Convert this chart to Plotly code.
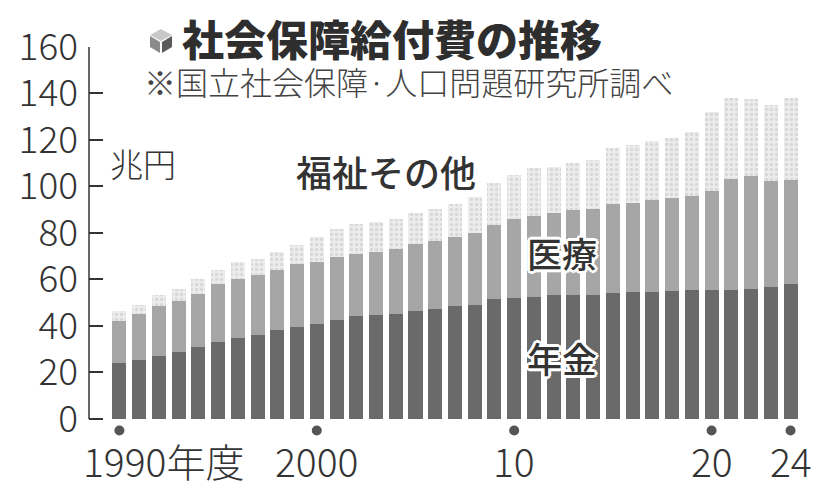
import plotly.graph_objects as go

# 社会保障給付費 (兆円), 1990-2024年度
years = list(range(1990, 2025))
pension = [23.9, 25.5, 27.2, 28.6, 30.8, 33.3, 34.7, 36.2, 38.3, 39.7,
           40.9, 42.6, 44.1, 44.8, 45.2, 46.4, 47.4, 48.4, 49.2, 51.4,
           52.1, 52.4, 53.4, 53.4, 53.4, 54.1, 54.4, 54.6, 55.0, 55.3,
           55.3, 55.6, 55.9, 56.7, 57.9]
medical = [18.4, 19.7, 21.2, 22.1, 23.1, 24.6, 25.6, 25.9, 25.9, 27.1,
           26.6, 27.1, 26.7, 27.0, 28.1, 28.8, 29.2, 29.9, 30.8, 32.0,
           33.7, 35.0, 35.3, 36.4, 36.7, 38.3, 38.6, 39.6, 39.9, 40.6,
           42.9, 47.7, 48.8, 45.6, 44.7]
welfare = [4.1, 3.8, 4.7, 5.3, 6.1, 6.3, 7.2, 6.9, 7.6, 8.2,
           10.8, 11.8, 13.0, 13.0, 12.5, 13.5, 13.5, 14.1, 15.3, 18.0,
           19.2, 20.5, 19.6, 20.2, 21.3, 24.1, 24.9, 25.3, 26.0, 27.4,
           33.7, 34.8, 32.9, 32.9, 35.4]

tick_vals = [0, 20, 40, 60, 80, 100, 120, 140, 160]
mark_years = [1990, 2000, 2010, 2020, 2024]
mark_labels = ["1990年度", "2000", "10", "20", "24"]

FONT = "Noto Sans CJK JP, sans-serif"
INK = "#333333"

fig = go.Figure()
fig.add_trace(go.Bar(x=years, y=pension, name="年金", marker=dict(color="#6a6a6a", line=dict(width=0))))
fig.add_trace(go.Bar(x=years, y=medical, name="医療", marker=dict(color="#a6a6a6", line=dict(width=0))))
fig.add_trace(go.Bar(x=years, y=welfare, name="福祉その他",
                     marker=dict(color="#e6e6e6", line=dict(width=0),
                                 pattern=dict(shape=".", fgcolor="#c4c4c4", bgcolor="#ececec", size=5, solidity=0.35))))
fig.add_trace(go.Scatter(x=mark_years, y=[-5] * len(mark_years), mode="markers",
                         marker=dict(color="#555555", size=10), hoverinfo="skip"))

# y axis line only from 0 to 160
fig.add_shape(type="line", xref="paper", yref="y", x0=0, x1=0, y0=0, y1=160,
              line=dict(color=INK, width=1.5))

# plot area in screen pixels: x 89..801, y 47..484 (data -28..160)
def px(x, y):
    return (x - 89) / 712, (484 - y) / 437

def poly(pts, color):
    p = [px(a, b) for a, b in pts]
    path = "M " + " L ".join(f"{a:.4f},{b:.4f}" for a, b in p) + " Z"
    fig.add_shape(type="path", path=path, xref="paper", yref="paper",
                  fillcolor=color, line=dict(width=0), layer="above")

# cube icon before the title
poly([(161, 29), (172, 35), (161, 41), (150, 35)], "#c8c8c8")
poly([(150, 36), (160, 42), (160, 53), (150, 47)], "#8a8a8a")
poly([(162, 42), (172, 36), (172, 47), (162, 53)], "#5a5a5a")

tx, ty = px(180, 38)
fig.add_annotation(text="社会保障給付費の推移", xref="paper", yref="paper", x=tx, y=ty,
                   xanchor="left", yanchor="middle", showarrow=False,
                   font=dict(family=FONT, size=42, color="#2e2e2e", weight=900))
sx, sy = px(142, 81)
fig.add_annotation(text="※国立社会保障·人口問題研究所調べ", xref="paper", yref="paper", x=sx, y=sy,
                   xanchor="left", yanchor="middle", showarrow=False,
                   font=dict(family=FONT, size=32, color="#444444", weight=300))

halo = ("white 2px 0px 0px, white -2px 0px 0px, white 0px 2px 0px, white 0px -2px 0px, "
        "white 2px 2px 0px, white -2px -2px 0px, white 2px -2px 0px, white -2px 2px 0px, "
        "white 3px 0px 0px, white -3px 0px 0px, white 0px 3px 0px, white 0px -3px 0px")

fig.add_annotation(text="兆円", x=1991.2, y=110, showarrow=False,
                   font=dict(family=FONT, size=33, color=INK, weight=300))
fig.add_annotation(text="福祉その他", x=2003.5, y=106.5, showarrow=False,
                   font=dict(family=FONT, size=36, color=INK, weight=500))
fig.add_annotation(text="医療", x=2012.4, y=71.5, showarrow=False,
                   font=dict(family=FONT, size=35, color=INK, weight=500, shadow=halo))
fig.add_annotation(text="年金", x=2012.4, y=26.5, showarrow=False,
                   font=dict(family=FONT, size=35, color=INK, weight=500, shadow=halo))

for yr, lab in zip(mark_years, mark_labels):
    first = lab.endswith("年度")
    fig.add_annotation(text=lab, x=yr, y=-17.5, showarrow=False,
                       xanchor="left" if first else "center",
                       xshift=-38 if first else 0,
                       font=dict(family=FONT, size=39, color=INK, weight=300))

# page body has an 8px margin, so the plot area is placed 8px up/left of the screen target
fig.update_layout(
    width=834, height=490,
    barmode="stack", bargap=0.29,
    showlegend=False,
    paper_bgcolor="white", plot_bgcolor="white",
    margin=dict(l=81, r=41, t=39, b=14, autoexpand=False),
    xaxis=dict(range=[1988.46, 2024.53], showticklabels=False, ticks="",
               showgrid=False, zeroline=False, showline=False, automargin=False),
    yaxis=dict(range=[-28, 160], tickvals=tick_vals, ticks="inside", ticklen=14,
               tickcolor=INK, tickwidth=1.5, showline=False,
               showgrid=False, zeroline=False, ticklabelstandoff=10, automargin=False,
               tickfont=dict(family=FONT, size=37, color=INK, weight=300)),
)

fig.write_html("out.html")
